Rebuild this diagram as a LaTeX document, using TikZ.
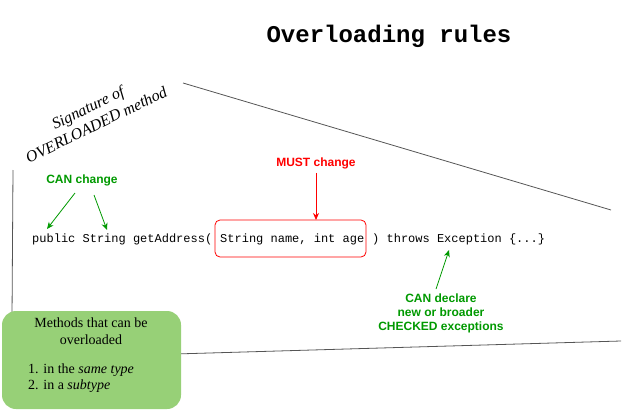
\documentclass[tikz,border=0pt]{standalone}
\usepackage{fontspec}
\setmainfont{Liberation Serif}
\setmonofont{Liberation Mono}
\newfontfamily\lsans{Liberation Sans}
\usetikzlibrary{arrows.meta}
\definecolor{grn}{HTML}{009900}
\definecolor{boxgreen}{HTML}{97D077}
\definecolor{lgray}{HTML}{555555}
\tikzset{
  guide/.style={draw=lgray, line width=0.8pt},
  greenlbl/.style={font=\lsans\bfseries\fontsize{12}{14}\selectfont, text=grn, align=center, inner sep=0pt},
  redlbl/.style={font=\lsans\bfseries\fontsize{12}{14}\selectfont, text=red, align=center, inner sep=0pt},
  codetxt/.style={font=\ttfamily\fontsize{12}{14}\selectfont, inner sep=0pt, anchor=west},
  garrow/.style={draw=grn, line width=0.8pt, -{Stealth[length=7pt,width=6pt]}},
  rarrow/.style={draw=red, line width=0.8pt, -{Stealth[length=7pt,width=6pt]}},
}
\begin{document}
\begin{tikzpicture}[x=1pt,y=-1pt]
\useasboundingbox (0,0) rectangle (623,412);
% guide lines
\coordinate (l1a) at (13,170);
\coordinate (l1b) at (12,318);
\coordinate (l2a) at (183,83);
\coordinate (l2b) at (611,210);
\coordinate (l3a) at (175,354);
\coordinate (l3b) at (621,341);
\draw[guide] (l1a) -- (l1b);
\draw[guide] (l2a) -- (l2b);
\draw[guide] (l3a) -- (l3b);
% title
\node[font=\ttfamily\bfseries\fontsize{24}{28}\selectfont, inner sep=0pt] (title) at (389,36) {Overloading rules};
% rotated label
\node[font=\itshape\fontsize{16}{19}\selectfont, align=center, rotate=26, inner sep=0pt] (sig) at (92,116) {Signature of\\OVERLOADED method};
% code line
\node[codetxt] (pre) at (32,239) {public String getAddress(};
\node[codetxt] (args) at (220,239) {String name, int age};
\draw[red, line width=0.8pt, rounded corners=5pt] (215,220) rectangle (366,257);
\coordinate (argtop) at (316,220);
\node[codetxt] (post) at (372,239) {) throws Exception \{...\}};
% labels
\node[greenlbl] (can) at (82,180) {CAN change};
\node[redlbl] (must) at (316,163) {MUST change};
\node[greenlbl] (decl) at (441,313) {CAN declare\\new or broader\\CHECKED exceptions};
\coordinate (t1) at (47,229);
\coordinate (t2) at (107,230);
\coordinate (t3) at (449,250);
\draw[garrow] (75,193) -- (t1);
\draw[garrow] (94,195) -- (t2);
\draw[rarrow] (must.south)+(0,4) -- (argtop);
\draw[garrow] (436,289) -- (t3);
% green box
\fill[boxgreen, rounded corners=14pt] (2,311) rectangle (181,409);
\node[font=\fontsize{14}{17}\selectfont, align=center, inner sep=0pt] (mt) at (91,331) {Methods that can be\\overloaded};
\node[font=\fontsize{14}{16}\selectfont, align=left, anchor=west, inner sep=0pt] (lst) at (28,378) {1. in the \textit{same type}\\2. in a \textit{subtype}};
\end{tikzpicture}
\end{document}
